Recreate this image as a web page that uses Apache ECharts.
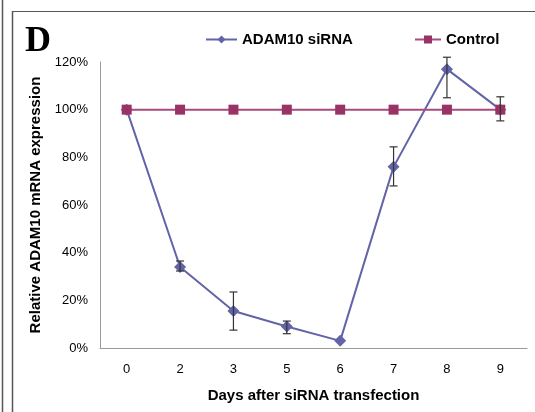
<!DOCTYPE html>
<html><head><meta charset="utf-8">
<script src="https://cdn.jsdelivr.net/npm/echarts@6/dist/echarts.min.js"></script>
<style>html,body{margin:0;padding:0;background:#fff}#c{width:535px;height:412px}</style>
</head><body><div id="c"></div>
<script>
var days = ['0','2','3','5','6','7','8','9'];
var adam10 = [100, 34, 15.5, 9, 3, 76, 117, 100];
var adam10Low = [null, 32.3, 7.5, 6, null, 68, 105, 95.3];
var adam10High = [null, 36.5, 23.5, 11.3, null, 84.4, 122, 105.4];
var control = [100, 100, 100, 100, 100, 100, 100, 100];
var yTicks = [0, 20, 40, 60, 80, 100, 120];

var errData = [];
for (var i = 0; i < days.length; i++) {
  if (adam10Low[i] != null) errData.push([i, adam10Low[i], adam10High[i]]);
}

var chart = echarts.init(document.getElementById('c'));
var font = 'Liberation Sans, Arial, sans-serif';
chart.setOption({
  animation: false,
  grid: {left: 100, right: 8, top: 62, bottom: 64},
  graphic: [
    {type: 'line', shape: {x1: 2.5, y1: 0, x2: 2.5, y2: 412}, style: {stroke: '#555', lineWidth: 1.5}},
    {type: 'line', shape: {x1: 12.5, y1: 11, x2: 12.5, y2: 412}, style: {stroke: '#555', lineWidth: 1.5}},
    {type: 'line', shape: {x1: 12, y1: 11.5, x2: 535, y2: 11.5}, style: {stroke: '#555', lineWidth: 1.2}},
    {type: 'text', left: 25, top: 24, style: {text: 'D', font: 'bold 36px "Liberation Serif", "Times New Roman", serif', fill: '#000'}}
  ],
  legend: [
    {data: ['ADAM10 siRNA'], left: 200, top: 27, itemWidth: 31, itemHeight: 10,
     textStyle: {fontFamily: font, fontWeight: 'bold', fontSize: 15, color: '#000'}},
    {data: ['Control'], left: 409, top: 27, itemWidth: 26, itemHeight: 10,
     textStyle: {fontFamily: font, fontWeight: 'bold', fontSize: 15, color: '#000'}}
  ],
  xAxis: {
    type: 'category', data: days, boundaryGap: true,
    axisLine: {lineStyle: {color: '#999', width: 1}},
    axisTick: {show: false},
    axisLabel: {fontFamily: font, fontSize: 13, color: '#000', margin: 15},
    name: 'Days after siRNA transfection', nameLocation: 'middle', nameGap: 40,
    nameTextStyle: {fontFamily: font, fontWeight: 'bold', fontSize: 15, color: '#000'}
  },
  yAxis: {
    type: 'value', min: 0, max: 120, interval: 20,
    axisLine: {show: true, lineStyle: {color: '#999', width: 1}},
    axisTick: {show: false},
    splitLine: {show: false},
    axisLabel: {fontFamily: font, fontSize: 13, color: '#000', margin: 12, formatter: '{value}%'},
    name: 'Relative ADAM10 mRNA expression', nameLocation: 'middle', nameGap: 56,
    nameTextStyle: {fontFamily: font, fontWeight: 'bold', fontSize: 15, color: '#000'}
  },
  series: [
    {
      name: 'ADAM10 siRNA', type: 'line', data: adam10, z: 2,
      symbol: 'diamond', symbolSize: 12,
      lineStyle: {color: '#6264a7', width: 2},
      itemStyle: {color: '#6264a7'}
    },
    {
      name: 'Control', type: 'line', data: control, z: 3,
      symbol: 'rect', symbolSize: 10,
      lineStyle: {color: '#ab4a7e', width: 2},
      itemStyle: {color: '#993366'}
    },
    {
      type: 'custom', z: 4, data: errData,
      renderItem: function (params, api) {
        var x = api.value(0);
        var lo = api.coord([x, api.value(1)]);
        var hi = api.coord([x, api.value(2)]);
        var w = 4;
        var st = {stroke: '#333', lineWidth: 1.2};
        return {type: 'group', children: [
          {type: 'line', shape: {x1: lo[0], y1: lo[1], x2: hi[0], y2: hi[1]}, style: st},
          {type: 'line', shape: {x1: lo[0] - w, y1: lo[1], x2: lo[0] + w, y2: lo[1]}, style: st},
          {type: 'line', shape: {x1: hi[0] - w, y1: hi[1], x2: hi[0] + w, y2: hi[1]}, style: st}
        ]};
      }
    }
  ]
});
</script></body></html>
